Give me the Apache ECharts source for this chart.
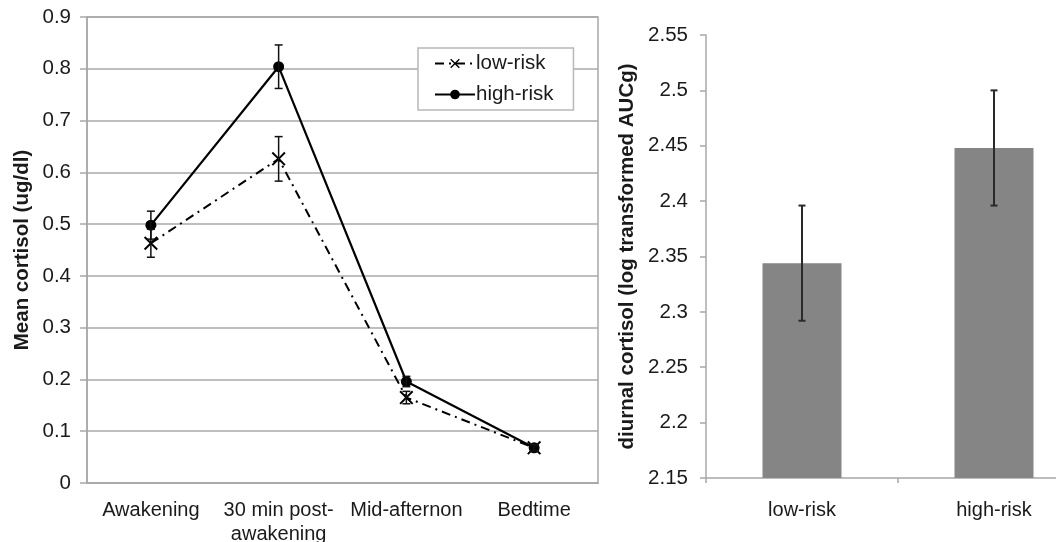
<!DOCTYPE html>
<html>
<head>
<meta charset="utf-8">
<script src="https://cdn.jsdelivr.net/npm/echarts@6/dist/echarts.min.js"></script>
<style>html,body{margin:0;padding:0;background:#fff;}#c{width:1056px;height:542px;}</style>
</head>
<body>
<div id="c"></div>
<script>
// ---- data ----
const timepoints = ['Awakening', '30 min post-\nawakening', 'Mid-afternon', 'Bedtime'];
const lowRisk = [0.463, 0.626, 0.165, 0.068];
const lowRiskErr = [0.027, 0.043, 0.012, 0.006];
const highRisk = [0.498, 0.804, 0.196, 0.068];
const highRiskErr = [0.027, 0.042, 0.010, 0.006];
const groups = ['low-risk', 'high-risk'];
const aucMeans = [2.344, 2.448];
const aucErr = [0.052, 0.052];
const leftAxisRange = [0, 0.9, 0.1];
const rightAxisRange = [2.15, 2.55, 0.05];

const FONT = "'Liberation Sans', Arial, sans-serif";
const TXT = '#1a1a1a';

function errData(vals, errs) {
  return vals.map((v, i) => [i, v - errs[i], v + errs[i]]);
}
function errRender(capHalf, color, width) {
  return function (params, api) {
    const x = api.value(0);
    const lo = api.coord([x, api.value(1)]);
    const hi = api.coord([x, api.value(2)]);
    const style = { stroke: color, lineWidth: width, fill: null };
    return {
      type: 'group',
      children: [
        { type: 'line', shape: { x1: lo[0], y1: lo[1], x2: hi[0], y2: hi[1] }, style },
        { type: 'line', shape: { x1: hi[0] - capHalf, y1: hi[1], x2: hi[0] + capHalf, y2: hi[1] }, style },
        { type: 'line', shape: { x1: lo[0] - capHalf, y1: lo[1], x2: lo[0] + capHalf, y2: lo[1] }, style }
      ]
    };
  };
}

const xSymbol = 'path://M0,2 L2,0 L10,8 L18,0 L20,2 L12,10 L20,18 L18,20 L10,12 L2,20 L0,18 L8,10 Z';

const chart = echarts.init(document.getElementById('c'), null, { renderer: 'canvas' });
chart.setOption({
  animation: false,
  backgroundColor: '#fff',
  textStyle: { fontFamily: FONT, color: TXT },
  grid: [
    { left: 87, top: 17, width: 511, height: 466, show: true, borderColor: '#a8a8a8', borderWidth: 1.5, backgroundColor: 'transparent', outerBoundsMode: 'none' },
    { left: 706, top: 35, width: 384, height: 443, outerBoundsMode: 'none' }
  ],
  legend: {
    data: groups,
    orient: 'vertical',
    left: 418, top: 48,
    padding: [5, 20, 5, 16],
    itemGap: 10,
    itemWidth: 40, itemHeight: 12,
    backgroundColor: '#fff',
    borderColor: '#b8b8b8', borderWidth: 1.5,
    textStyle: { fontFamily: FONT, fontSize: 20.5, color: TXT, padding: [0, 0, 0, -4] }
  },
  xAxis: [
    {
      gridIndex: 0, type: 'category', data: timepoints,
      axisLine: { lineStyle: { color: '#a8a8a8', width: 1.5 } },
      axisTick: { show: false },
      axisLabel: { interval: 0, fontFamily: FONT, fontSize: 20, color: TXT, margin: 15, lineHeight: 24 }
    },
    {
      gridIndex: 1, type: 'category', data: groups,
      axisLine: { lineStyle: { color: '#a8a8a8', width: 1.5 } },
      axisTick: { show: true, length: 5, lineStyle: { color: '#a8a8a8', width: 1.5 } },
      axisLabel: { interval: 0, fontFamily: FONT, fontSize: 20, color: TXT, margin: 22 }
    }
  ],
  yAxis: [
    {
      gridIndex: 0, type: 'value', min: leftAxisRange[0], max: leftAxisRange[1], interval: leftAxisRange[2],
      name: 'Mean cortisol (ug/dl)', nameLocation: 'middle', nameGap: 54, nameRotate: 90,
      nameTextStyle: { fontFamily: FONT, fontSize: 20.5, fontWeight: 'bold', color: TXT },
      axisLine: { show: true, lineStyle: { color: '#a8a8a8', width: 1.5 } },
      axisTick: { show: true, length: 7, lineStyle: { color: '#a8a8a8', width: 1.5 } },
      splitLine: { show: true, lineStyle: { color: '#a8a8a8', width: 1.5 } },
      axisLabel: { fontFamily: FONT, fontSize: 20.5, color: TXT, margin: 16 }
    },
    {
      gridIndex: 1, type: 'value', min: rightAxisRange[0], max: rightAxisRange[1], interval: rightAxisRange[2],
      name: 'diurnal cortisol (log transformed AUCg)', nameLocation: 'middle', nameGap: 68, nameRotate: 90,
      nameTextStyle: { fontFamily: FONT, fontSize: 20.5, fontWeight: 'bold', color: TXT },
      axisLine: { show: true, lineStyle: { color: '#a8a8a8', width: 1.5 } },
      axisTick: { show: true, length: 6, lineStyle: { color: '#a8a8a8', width: 1.5 } },
      splitLine: { show: false },
      axisLabel: { fontFamily: FONT, fontSize: 20.5, color: TXT, margin: 18, formatter: v => String(+v.toFixed(2)) }
    }
  ],
  series: [
    {
      name: 'low-risk', type: 'line', xAxisIndex: 0, yAxisIndex: 0, data: lowRisk,
      symbol: xSymbol, symbolSize: 14,
      itemStyle: { color: '#000' },
      lineStyle: { color: '#000', width: 2, type: [9, 5, 2, 5] },
      z: 3
    },
    {
      name: 'high-risk', type: 'line', xAxisIndex: 0, yAxisIndex: 0, data: highRisk,
      symbol: 'circle', symbolSize: 11,
      itemStyle: { color: '#000' },
      lineStyle: { color: '#000', width: 2.2 },
      z: 4
    },
    {
      type: 'custom', xAxisIndex: 0, yAxisIndex: 0, data: errData(lowRisk, lowRiskErr),
      renderItem: errRender(4, '#111', 1.5), z: 5, silent: true
    },
    {
      type: 'custom', xAxisIndex: 0, yAxisIndex: 0, data: errData(highRisk, highRiskErr),
      renderItem: errRender(4, '#111', 1.5), z: 5, silent: true
    },
    {
      type: 'bar', xAxisIndex: 1, yAxisIndex: 1, data: aucMeans,
      barWidth: 79, itemStyle: { color: '#858585' }, z: 2
    },
    {
      type: 'custom', xAxisIndex: 1, yAxisIndex: 1, data: errData(aucMeans, aucErr),
      renderItem: errRender(3.5, '#2a2a2a', 2), z: 5, silent: true
    }
  ]
});
</script>
</body>
</html>
